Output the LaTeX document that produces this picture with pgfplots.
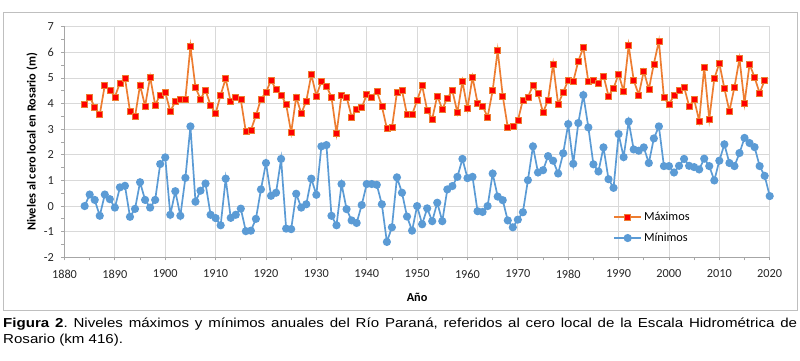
\documentclass[border=0pt]{standalone}
\usepackage{fontspec}
\setmainfont{Carlito}
\newfontfamily\capfont[FakeStretch=1.16]{Liberation Sans}
\usepackage{pgfplots}
\usepackage{pgfplotstable}
\pgfplotsset{compat=1.18}
\definecolor{maxorange}{HTML}{ED7D31}
\definecolor{maxred}{HTML}{FF0000}
\definecolor{minblue}{HTML}{5B9BD5}
\definecolor{gridgray}{HTML}{D9D9D9}
\definecolor{axgray}{HTML}{A6A6A6}
\definecolor{boxgray}{HTML}{BFBFBF}

\pgfplotstableread{
year v
1884 3.97
1885 4.26
1886 3.86
1887 3.57
1888 4.72
1889 4.52
1890 4.26
1891 4.80
1892 5.00
1893 3.70
1894 3.49
1895 4.72
1896 3.90
1897 5.04
1898 3.95
1899 4.34
1900 4.44
1901 3.70
1902 4.07
1903 4.18
1904 4.18
1905 6.23
1906 4.63
1907 4.18
1908 4.52
1909 3.93
1910 3.61
1911 4.34
1912 4.97
1913 4.07
1914 4.23
1915 4.16
1916 2.90
1917 2.96
1918 3.53
1919 4.18
1920 4.44
1921 4.91
1922 4.55
1923 4.34
1924 3.97
1925 2.87
1926 4.26
1927 3.61
1928 4.10
1929 5.13
1930 4.30
1931 4.87
1932 4.68
1933 4.26
1934 2.83
1935 4.34
1936 4.26
1937 3.48
1938 3.77
1939 3.84
1940 4.35
1941 4.26
1942 4.48
1943 3.90
1944 3.03
1945 3.06
1946 4.43
1947 4.52
1948 3.57
1949 3.57
1950 4.12
1951 4.70
1952 3.74
1953 3.40
1954 4.30
1955 3.78
1956 4.22
1957 4.50
1958 3.65
1959 4.87
1960 3.80
1961 5.03
1962 4.03
1963 3.90
1964 3.48
1965 4.51
1966 6.07
1967 4.30
1968 3.07
1969 3.10
1970 3.33
1971 4.14
1972 4.26
1973 4.70
1974 4.39
1975 3.65
1976 4.14
1977 5.54
1978 3.97
1979 4.44
1980 4.91
1981 4.87
1982 5.66
1983 6.19
1984 4.85
1985 4.89
1986 4.81
1987 5.08
1988 4.30
1989 4.60
1990 5.15
1991 4.48
1992 6.27
1993 4.91
1994 4.34
1995 5.27
1996 4.55
1997 5.55
1998 6.44
1999 4.23
2000 3.96
2001 4.33
2002 4.52
2003 4.65
2004 3.90
2005 4.16
2006 3.32
2007 5.41
2008 3.39
2009 4.97
2010 5.58
2011 4.59
2012 3.70
2013 4.64
2014 5.75
2015 4.01
2016 5.54
2017 5.02
2018 4.41
2019 4.91
}\maxdata

\pgfplotstableread{
year v
1884 0.00
1885 0.45
1886 0.24
1887 -0.38
1888 0.45
1889 0.27
1890 -0.06
1891 0.73
1892 0.79
1893 -0.42
1894 -0.11
1895 0.93
1896 0.24
1897 -0.06
1898 0.24
1899 1.64
1900 1.90
1901 -0.34
1902 0.58
1903 -0.38
1904 1.10
1905 3.11
1906 0.17
1907 0.60
1908 0.88
1909 -0.34
1910 -0.47
1911 -0.75
1912 1.07
1913 -0.46
1914 -0.34
1915 -0.10
1916 -0.98
1917 -0.96
1918 -0.50
1919 0.65
1920 1.68
1921 0.40
1922 0.52
1923 1.84
1924 -0.88
1925 -0.90
1926 0.48
1927 -0.06
1928 0.07
1929 1.07
1930 0.44
1931 2.33
1932 2.38
1933 -0.38
1934 -0.75
1935 0.86
1936 -0.12
1937 -0.56
1938 -0.66
1939 0.04
1940 0.86
1941 0.86
1942 0.83
1943 0.07
1944 -1.40
1945 -0.83
1946 1.12
1947 0.52
1948 -0.41
1949 -0.96
1950 0.00
1951 -0.71
1952 -0.09
1953 -0.59
1954 0.13
1955 -0.59
1956 0.65
1957 0.78
1958 1.14
1959 1.84
1960 1.09
1961 1.14
1962 -0.20
1963 -0.23
1964 0.00
1965 1.27
1966 0.37
1967 0.23
1968 -0.56
1969 -0.83
1970 -0.53
1971 -0.24
1972 1.01
1973 2.33
1974 1.31
1975 1.40
1976 1.95
1977 1.77
1978 1.27
1979 2.06
1980 3.20
1981 1.65
1982 3.24
1983 4.33
1984 3.07
1985 1.63
1986 1.35
1987 2.29
1988 1.05
1989 0.71
1990 2.81
1991 1.91
1992 3.30
1993 2.21
1994 2.16
1995 2.29
1996 1.68
1997 2.64
1998 3.11
1999 1.56
2000 1.56
2001 1.31
2002 1.57
2003 1.84
2004 1.57
2005 1.52
2006 1.43
2007 1.85
2008 1.56
2009 1.00
2010 1.77
2011 2.41
2012 1.68
2013 1.56
2014 2.07
2015 2.66
2016 2.46
2017 2.30
2018 1.56
2019 1.18
2020 0.39
}\mindata

\begin{document}
\begin{tikzpicture}[x=1pt,y=1pt]
\useasboundingbox (0,0) rectangle (800,360);
\draw[boxgray, line width=0.8pt] (3,50) rectangle (797,348);
\begin{axis}[
  at={(64.5pt,102.7pt)}, anchor=south west,
  scale only axis, width=705.2pt, height=230.6pt,
  xmin=1880, xmax=2020, ymin=-2, ymax=7,
  xtick={1880,1890,1900,1910,1920,1930,1940,1950,1960,1970,1980,1990,2000,2010,2020},
  xticklabels={1880,1890,1900,1910,1920,1930,1940,1950,1960,1970,1980,1990,2000,2010,2020},
  ytick={-2,-1,0,1,2,3,4,5,6,7},
  yticklabels={-2,-1,0,1,2,3,4,5,6,7},
  minor x tick num=1, minor y tick num=1,
  axis lines=left,
  axis line style={-, axgray, line width=0.8pt},
  tick align=outside,
  major tick length=3pt, minor tick length=3pt,
  tick style={axgray, line width=0.75pt},
  grid=major,
  major grid style={gridgray, line width=0.9pt},
  tick label style={font=\fontsize{12.3}{14}\selectfont, text=black!85},
  xticklabel style={yshift=-6pt},
  yticklabel style={xshift=-4pt},
  xlabel={Año},
  xlabel style={at={(axis description cs:0.5,-0.172)}, anchor=center, font=\bfseries\fontsize{12.3}{14}\selectfont},
  ylabel={Niveles al cero local en Rosario (m)},
  ylabel style={at={(axis description cs:-0.0461,0.5)}, anchor=center, rotate=0, font=\bfseries\fontsize{12.3}{14}\selectfont},
  legend style={at={(axis description cs:0.778,0.129)}, anchor=west, draw=none, fill=none,
    row sep=7pt, font=\fontsize{12.3}{14}\selectfont, inner sep=0pt},
  legend cell align=left,
  legend image code/.code={%
    \draw[mark repeat=2,mark phase=2,#1] plot coordinates {(0pt,0pt) (13.5pt,0pt) (27pt,0pt)};
  },
  clip=false,
]
\addplot[maxorange, line width=1.7pt, mark=square*, mark size=3pt,
  mark options={fill=maxred, draw=maxorange, line width=0.6pt, solid}]
  table[x=year,y=v]{\maxdata};
\addlegendentry{Máximos}
\addplot[minblue, line width=1.7pt, mark=*, mark size=3.2pt,
  mark options={fill=minblue, draw=minblue, solid}]
  table[x=year,y=v]{\mindata};
\addlegendentry{Mínimos}
\end{axis}
\node[anchor=base west, inner sep=0pt, text width=794pt, align=justify,
  font=\capfont\fontsize{13}{16.5}\selectfont] at (3,33)
  {\frenchspacing\hyphenpenalty=10000 \textbf{Figura 2}. Niveles máximos y mínimos anuales del Río Paraná, referidos al cero local de la Escala Hidrométrica de Rosario (km 416).};
\end{tikzpicture}
\end{document}
